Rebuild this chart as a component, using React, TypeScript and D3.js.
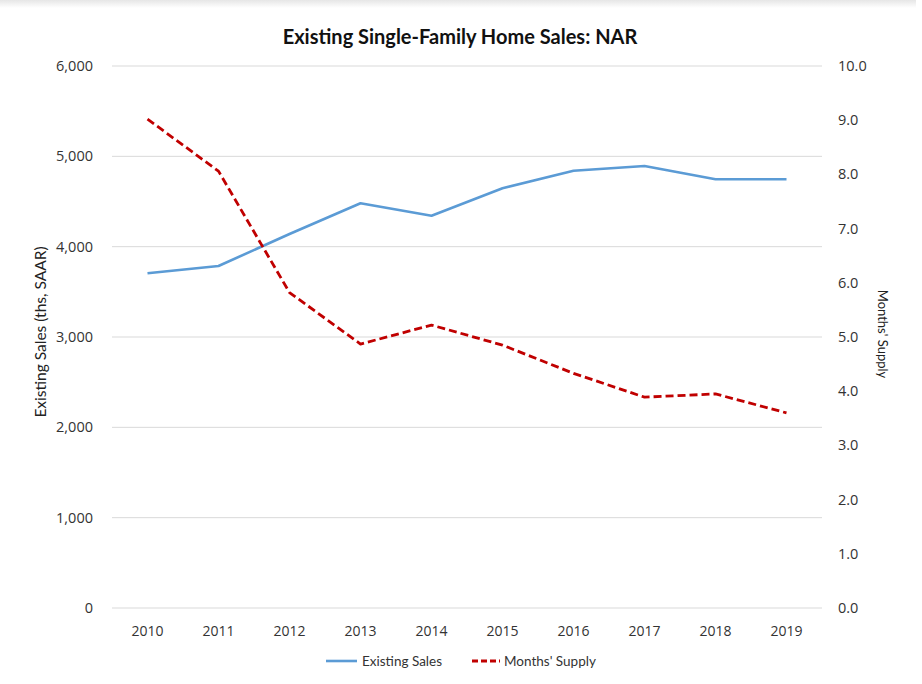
import React, { useMemo } from "react";
import { scalePoint, scaleLinear, line, format } from "d3";

const years = ["2010", "2011", "2012", "2013", "2014", "2015", "2016", "2017", "2018", "2019"];
const existingSales = [3705, 3786, 4140, 4480, 4343, 4646, 4841, 4893, 4746, 4746];
const monthsSupply = [9.02, 8.06, 5.82, 4.87, 5.22, 4.85, 4.33, 3.89, 3.95, 3.6];
const salesTicks = [0, 1000, 2000, 3000, 4000, 5000, 6000];
const supplyTicks = [0, 1, 2, 3, 4, 5, 6, 7, 8, 9, 10];

const W = 922;
const H = 684;
const plot = { left: 112, right: 822, top: 66, bottom: 608 };
const tickFont = "'Open Sans', 'DejaVu Sans', sans-serif";
const labelFont = "Lato, 'Liberation Sans', sans-serif";

export default function App() {
  const x = useMemo(
    () => scalePoint<string>().domain(years).range([plot.left, plot.right]).padding(0.5),
    []
  );
  const yL = useMemo(() => scaleLinear().domain([0, 6000]).range([plot.bottom, plot.top]), []);
  const yR = useMemo(() => scaleLinear().domain([0, 10]).range([plot.bottom, plot.top]), []);

  const salesPath = line<number>()
    .x((_, i) => x(years[i])!)
    .y((d) => yL(d))(existingSales);
  const supplyPath = line<number>()
    .x((_, i) => x(years[i])!)
    .y((d) => yR(d))(monthsSupply);

  const fmtL = format(",");
  const fmtR = format(".1f");

  return (
    <div style={{ position: "absolute", left: 0, top: 0 }}>
      <svg width={W} height={H} style={{ display: "block", background: "#fff" }}>
        <defs>
          <linearGradient id="topShade" x1="0" y1="0" x2="0" y2="1">
            <stop offset="0" stopColor="#e6e6e6" />
            <stop offset="1" stopColor="#ffffff" />
          </linearGradient>
        </defs>
        <rect x={0} y={0} width={916} height={8} fill="url(#topShade)" />

        <text
          x={460}
          y={44}
          textAnchor="middle"
          fontFamily={labelFont}
          fontWeight="bold"
          fontSize={20}
          fill="#111"
        >
          Existing Single-Family Home Sales: NAR
        </text>

        {salesTicks.map((t) => (
          <g key={t}>
            <line x1={plot.left} x2={plot.right} y1={yL(t)} y2={yL(t)} stroke="#d9d9d9" strokeWidth={1} />
            <text x={93} y={yL(t)} dy="0.35em" textAnchor="end" fontFamily={tickFont} fontSize={14.5} fill="#333">
              {fmtL(t)}
            </text>
          </g>
        ))}

        {supplyTicks.map((t) => (
          <text key={t} x={838} y={yR(t)} dy="0.35em" fontFamily={tickFont} fontSize={14.5} fill="#333">
            {fmtR(t)}
          </text>
        ))}

        {years.map((yr) => (
          <text key={yr} x={x(yr)} y={636} textAnchor="middle" fontFamily={tickFont} fontSize={14} fill="#333">
            {yr}
          </text>
        ))}

        <text
          transform="translate(46,332) rotate(-90)"
          textAnchor="middle"
          fontFamily={labelFont}
          fontSize={15.5}
          fill="#222"
        >
          Existing Sales (ths, SAAR)
        </text>
        <text
          transform="translate(878,334) rotate(90)"
          textAnchor="middle"
          fontFamily={labelFont}
          fontSize={13}
          fill="#222"
        >
          Months' Supply
        </text>

        <path d={salesPath ?? ""} fill="none" stroke="#5b9bd5" strokeWidth={2.6} strokeLinejoin="round" />
        <path
          d={supplyPath ?? ""}
          fill="none"
          stroke="#c00000"
          strokeWidth={2.8}
          strokeDasharray="8,4"
          strokeLinejoin="round"
        />

        <g fontFamily={labelFont} fontSize={13.5} fill="#333">
          <line x1={326} x2={357} y1={661} y2={661} stroke="#5b9bd5" strokeWidth={2.6} />
          <text x={362} y={661} dy="0.35em">Existing Sales</text>
          <line x1={472} x2={500} y1={661} y2={661} stroke="#c00000" strokeWidth={2.8} strokeDasharray="6,3" />
          <text x={504} y={661} dy="0.35em">Months' Supply</text>
        </g>
      </svg>
    </div>
  );
}
